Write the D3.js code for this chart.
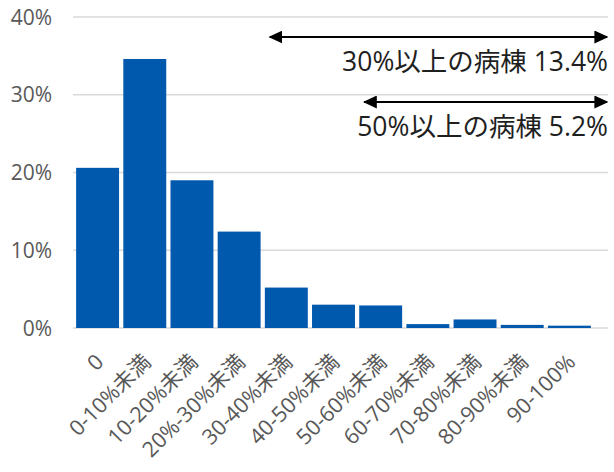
<!DOCTYPE html>
<html><head><meta charset="utf-8">
<script src="https://cdn.jsdelivr.net/npm/d3@7"></script>
<style>
html,body{margin:0;padding:0;background:#fff;}
svg{display:block;font-family:"Open Sans","Noto Sans CJK JP",sans-serif;}
</style></head>
<body><svg id="c" width="614" height="472"></svg>
<script>
const categories = ["0","0-10%未満","10-20%未満","20%-30%未満","30-40%未満","40-50%未満","50-60%未満","60-70%未満","70-80%未満","80-90%未満","90-100%"];
const values = [20.6, 34.6, 19.0, 12.4, 5.2, 3.0, 2.9, 0.5, 1.1, 0.4, 0.3];
const yTicks = [0, 10, 20, 30, 40];
const annotations = [
  {from: "30-40%未満", label: "30%以上の病棟 13.4%"},
  {from: "50-60%未満", label: "50%以上の病棟 5.2%"}
];

const svg = d3.select("#c");
const x = d3.scaleBand().domain(categories).range([74, 593]).paddingInner(0.09).paddingOuter(0.045);
const y = d3.scaleLinear().domain([0, 40]).range([328, 17]);
const gridRight = 608;

// gridlines
svg.append("g").selectAll("line").data(yTicks).join("line")
  .attr("x1", 73).attr("x2", gridRight)
  .attr("y1", d => y(d)).attr("y2", d => y(d))
  .attr("stroke", "#d9d9d9").attr("stroke-width", 1.3);

// y labels
svg.append("g").selectAll("text").data(yTicks).join("text")
  .attr("x", 52).attr("y", d => y(d)).attr("dy", "0.36em")
  .attr("text-anchor", "end").attr("font-size", 21).attr("fill", "#595959")
  .text(d => d + "%");

// bars
svg.append("g").selectAll("rect").data(values).join("rect")
  .attr("x", (d, i) => x(categories[i])).attr("width", x.bandwidth())
  .attr("y", d => y(d)).attr("height", d => y(0) - y(d))
  .attr("fill", "#0059ad");

// x labels
svg.append("g").selectAll("text").data(categories).join("text")
  .attr("transform", d => `translate(${x(d) + x.bandwidth() / 2 + 2},${358}) rotate(-45)`)
  .attr("dy", "0.35em")
  .attr("text-anchor", "end").attr("font-size", 21.5).attr("fill", "#595959")
  .text(d => d);

// arrow markers
const defs = svg.append("defs");
defs.append("marker").attr("id", "ah").attr("viewBox", "0 0 10 10")
  .attr("refX", 9).attr("refY", 5).attr("markerWidth", 14).attr("markerHeight", 13)
  .attr("markerUnits", "userSpaceOnUse").attr("orient", "auto-start-reverse")
  .attr("preserveAspectRatio", "none")
  .append("path").attr("d", "M0,0 L10,5 L0,10 Z").attr("fill", "#000");

const arrowY = [37, 102];
const textY = [71, 136];
annotations.forEach((a, i) => {
  svg.append("line")
    .attr("x1", x(a.from) + 5).attr("x2", gridRight - 1)
    .attr("y1", arrowY[i]).attr("y2", arrowY[i])
    .attr("stroke", "#000").attr("stroke-width", 2)
    .attr("marker-start", "url(#ah)").attr("marker-end", "url(#ah)");
  svg.append("text")
    .attr("x", gridRight).attr("y", textY[i])
    .attr("text-anchor", "end").attr("font-size", 26.5).attr("fill", "#1f1f1f")
    .text(a.label);
});
</script></body></html>
